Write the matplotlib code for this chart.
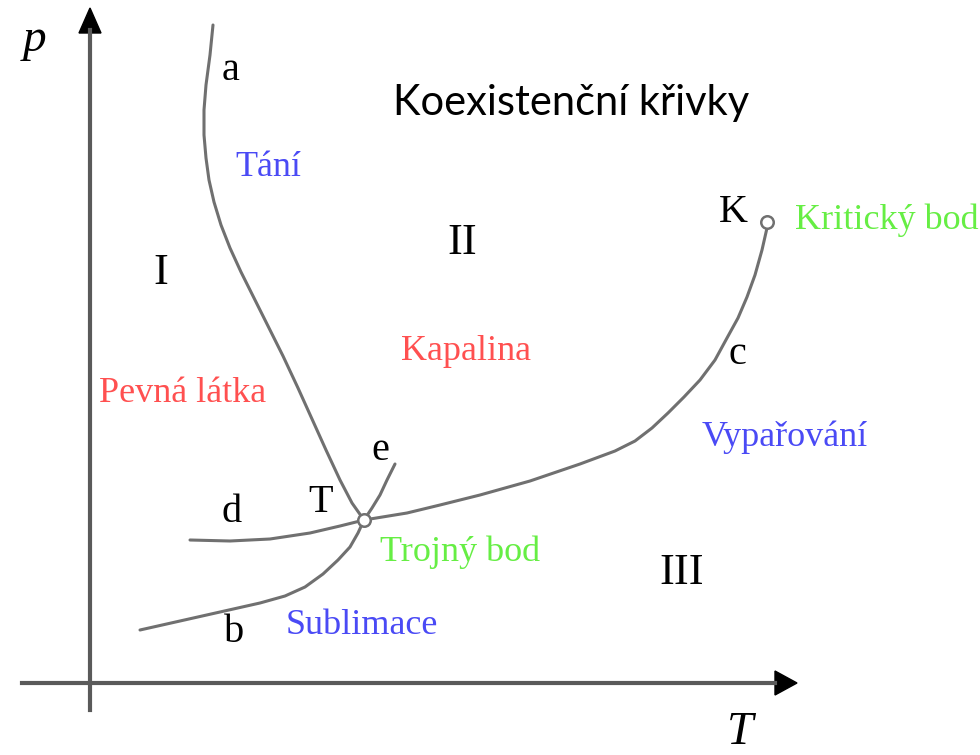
import matplotlib.pyplot as plt

# body krivek (x = T, y = p), v souradnicich obrazku
tani_x = [213, 210, 206, 204, 204, 206, 209, 214, 221, 230, 241, 254, 268, 283, 298,
          312, 326, 340, 352, 364]
tani_y = [25, 55, 85, 110, 135, 158, 180, 202, 225, 248, 272, 298, 326, 356, 388,
          419, 450, 480, 503, 520]

vypar_x = [190, 230, 270, 310, 340, 364, 407, 440, 480, 530, 580, 615, 635, 652, 668,
           684, 700, 715, 727, 738, 747, 755, 762, 767]
vypar_y = [540, 541, 539, 533, 526, 520, 513, 505, 495, 481, 464, 451, 441, 428, 413,
           397, 380, 360, 338, 318, 297, 275, 250, 228]

sublim_x = [140, 180, 220, 260, 285, 305, 323, 338, 350, 358, 364, 372, 380, 387, 395]
sublim_y = [630, 621, 612, 603, 596, 587, 574, 560, 547, 533, 520, 508, 495, 480, 464]

trojny_bod = (364, 520)
kriticky_bod = (767, 222)

fig = plt.figure(figsize=(9.8, 7.55), dpi=100)
ax = fig.add_axes([0, 0, 1, 1])
ax.set_xlim(0, 980)
ax.set_ylim(755, 0)
ax.axis('off')

# osy se sipkami
ax.plot([90, 90], [710, 30], color='#5a5a5a', lw=3)
ax.plot([22, 775], [683, 683], color='#5a5a5a', lw=3)
ax.fill([79, 101, 90], [33, 33, 8], color='black')
ax.fill([775, 775, 797], [671, 695, 683], color='black')

curve = dict(color='#707070', lw=2.2, solid_capstyle='round')
ax.plot(tani_x, tani_y, **curve)
ax.plot(vypar_x, vypar_y, **curve)
ax.plot(sublim_x, sublim_y, **curve)
for px, py in (trojny_bod, kriticky_bod):
    ax.plot(px, py, 'o', ms=9, mfc='white', mec='#707070', mew=1.8)

serif = 'Liberation Serif'
ax.text(35, 40, 'p', fontsize=34, family=serif, style='italic', ha='center', va='center')
ax.text(740, 733, 'T', fontsize=34, family=serif, style='italic', ha='center', va='center')

black = dict(fontsize=29, family=serif, ha='center', va='center', color='black')
ax.text(231, 70, 'a', **black)
ax.text(733, 213, 'K', **black)
ax.text(737, 355, 'c', **black)
ax.text(380, 450, 'e', **black)
ax.text(232, 513, 'd', **black)
ax.text(321, 502, 'T', **black)
ax.text(234, 633, 'b', **black)

roman = dict(fontsize=32, family=serif, ha='center', va='center', color='black')
ax.text(161, 273, 'I', **roman)
ax.text(462, 243, 'II', **roman)
ax.text(682, 573, 'III', **roman)

blue = '#4a4af5'
red = '#ff5050'
green = '#66ee44'
lbl = dict(fontsize=26, family=serif, ha='center', va='center')
ax.text(268, 167, 'Tání', color=blue, **lbl)
ax.text(466, 352, 'Kapalina', color=red, **lbl)
ax.text(183, 393, 'Pevná látka', color=red, **lbl)
ax.text(795, 220, 'Kritický bod', color=green, fontsize=26, family=serif,
        ha='left', va='center')
ax.text(785, 437, 'Vypařování', color=blue, **lbl)
ax.text(460, 552, 'Trojný bod', color=green, **lbl)
ax.text(362, 625, 'Sublimace', color=blue, **lbl)

ax.text(571, 103, 'Koexistenční křivky', fontsize=30, family='Lato',
        ha='center', va='center', color='black')

fig.savefig('out.png', dpi=100)
